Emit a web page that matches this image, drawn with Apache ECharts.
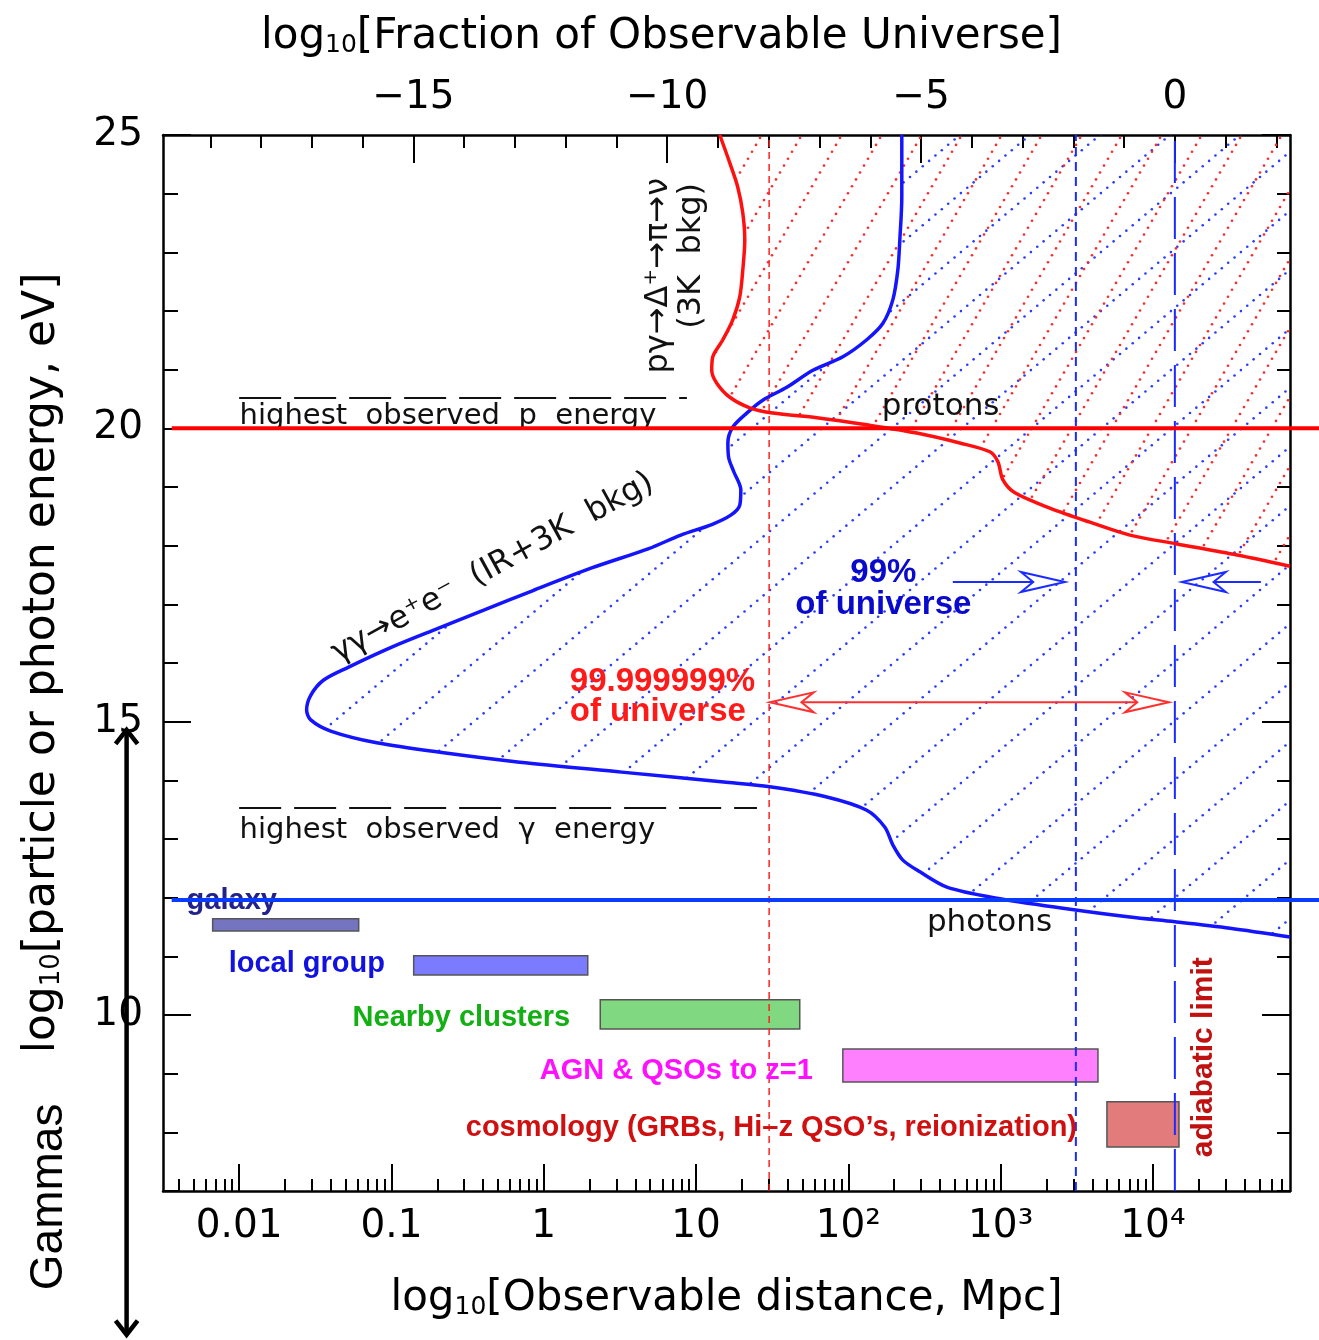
<!DOCTYPE html>
<html>
<head>
<meta charset="utf-8">
<title>Observable universe vs particle energy</title>
<script src="https://cdn.jsdelivr.net/npm/echarts@6/dist/echarts.min.js"></script>
<style>
  html, body { margin: 0; padding: 0; background: #fff; }
  #chart { width: 1319px; height: 1340px; }
</style>
</head>
<body>
<div id="chart"></div>
<script>
// x = log10(distance / Mpc), y = log10(energy / eV)

// photon horizon (gamma gamma -> e+e-) top to bottom
const photonHorizon = [
  [2.351, 25.0], [2.351, 23.94], [2.338, 23.21], [2.325, 22.70], [2.292, 22.19],
  [2.227, 21.79], [2.121, 21.51], [1.964, 21.22], [1.767, 20.99], [1.596, 20.70],
  [1.438, 20.48], [1.333, 20.26], [1.241, 20.02], [1.209, 19.75], [1.215, 19.49],
  [1.248, 19.26], [1.294, 18.95], [1.287, 18.69], [1.228, 18.52], [1.103, 18.36],
  [0.900, 18.18], [0.690, 17.95], [0.315, 17.62], [-0.066, 17.24], [-0.394, 16.90],
  [-0.723, 16.56], [-0.998, 16.27], [-1.281, 15.93], [-1.445, 15.71], [-1.530, 15.45],
  [-1.557, 15.20], [-1.530, 15.03], [-1.399, 14.84], [-1.097, 14.64], [-0.657, 14.47],
  [-0.158, 14.31], [0.512, 14.14], [1.182, 13.97], [1.484, 13.89], [1.852, 13.72],
  [2.121, 13.49], [2.240, 13.20], [2.292, 12.90], [2.358, 12.64], [2.470, 12.44],
  [2.647, 12.18], [2.975, 11.99], [3.409, 11.82], [3.849, 11.67], [4.144, 11.59],
  [4.506, 11.48], [4.900, 11.33]
];

// proton horizon (p gamma -> Delta -> pi -> nu)
const protonHorizon = [
  [1.156, 25.0], [1.222, 24.52], [1.274, 24.11], [1.307, 23.67], [1.320, 23.21],
  [1.307, 22.70], [1.287, 22.24], [1.241, 21.85], [1.176, 21.51], [1.110, 21.22],
  [1.103, 20.99], [1.136, 20.77], [1.222, 20.53], [1.353, 20.35], [1.504, 20.26],
  [1.793, 20.18], [2.121, 20.06], [2.450, 19.92], [2.732, 19.75], [2.929, 19.60],
  [2.982, 19.43], [3.015, 19.12], [3.094, 18.90], [3.323, 18.64], [3.586, 18.40],
  [3.849, 18.18], [4.158, 18.03], [4.552, 17.84], [4.900, 17.65]
];

const protonLimit = 20.0;        // red line
const photonLimit = 11.96;       // blue line
const limitStart = -2.443;
const distanceMarks = [1.48, 3.494, 4.144];   // 30 Mpc, 99 %, adiabatic limit
const horizonLog = 4.144;                     // log10 distance where fraction = 1

// "highest observed" dashed lines: [x0, x1, y]
const observedMax = [[-2.0, 0.94, 20.52], [-2.0, 1.40, 13.53]];

// source classes: [x0, x1, y0, y1]
const sourceNames = ['galaxy', 'local group', 'Nearby clusters', 'AGN & QSOs to z=1',
  'cosmology (GRBs, Hi\u2013z QSO\u2019s, reionization)'];
const sourceRanges = [
  [-2.174, -1.215, 11.43, 11.64],
  [-0.854, 0.289, 10.68, 11.01],
  [0.371, 1.681, 9.76, 10.26],
  [1.964, 3.639, 8.86, 9.42],
  [3.698, 4.171, 7.75, 8.52]
];
const sourceLabelAt = [[-2.345, 11.94], [-2.069, 10.87], [-1.255, 9.95], [-0.026, 9.05], [-0.512, 8.07]];

// arrows: [x0, y0, x1, y1]
const blueArrows = [[2.686, 17.38, 3.422, 17.38], [4.709, 17.38, 4.190, 17.38]];
const redArrow = [[1.484, 15.33, 4.105, 15.33]];
const gammaArrow = [[-2.739, 14.86, -2.739, 4.55]];

// other text
const noteText = [
  'highest  observed  p  energy',
  'highest  observed  \u03b3  energy',
  'protons',
  'photons',
  'p\u03b3\u2192\u0394\u207a\u2192\u03c0\u2192\u03bd',
  '(3K  bkg)',
  '\u03b3\u03b3\u2192e\u207ae\u207b  (IR+3K  bkg)',
  '99%\nof universe',
  '99.999999%\nof universe',
  'adiabatic limit',
  'Gammas'
];
const noteAt = [
  [-1.997, 20.21], [-1.997, 13.15], [2.22, 20.36], [2.516, 11.57],
  [0.755, 22.60], [0.972, 22.94], [-0.335, 17.62],
  [2.23, 17.26], [0.171, 15.42], [4.335, 9.28], [-3.245, 6.90]
];

// axis ticks
const decadeTicks = [-2, -1, 0, 1, 2, 3, 4];
const decadeLabels = ['0.01', '0.1', '1', '10', '10\u00b2', '10\u00b3', '10\u2074'];
const mantissas = [2, 3, 4, 5, 6, 7, 8, 9];
const fractionTicks = [-15, -10, -5, 0];
const fractionMinor = [-19, -18, -17, -16, -15, -14, -13, -12, -11, -10, -9, -8, -7, -6, -5, -4, -3, -2, -1, 0, 1, 2];
const energyTicks = [10, 15, 20, 25];
const energyMinor = [7, 8, 9, 10, 11, 12, 13, 14, 15, 16, 17, 18, 19, 20, 21, 22, 23, 24, 25];

const X_MIN = -2.5, X_MAX = 4.9, Y_MIN = 7, Y_MAX = 25;
const X2_MAX = X_MIN + (X_MAX - X_MIN) * (1319 - 163) / (1319 - 163 - 29);

const minorDistance = [];
[-3, -2, -1, 0, 1, 2, 3, 4].forEach(n => mantissas.forEach(m => {
  const v = n + Math.log10(m);
  if (v > X_MIN && v < X_MAX) minorDistance.push(v);
}));

const FONT = "'DejaVu Sans', sans-serif";
const SANS = "'Liberation Sans', Arial, sans-serif";

// dotted diagonal hatch as a repeating canvas pattern
function hatch(color, w, angle, step, r) {
  const h = Math.round(w * Math.tan(angle * Math.PI / 180));
  const c = document.createElement('canvas');
  c.width = w; c.height = h;
  const g = c.getContext('2d');
  g.fillStyle = color;
  const n = Math.max(1, Math.round(Math.hypot(w, h) / step));
  for (let i = 0; i < n; i++) {
    const x = w * i / n, y = h - h * i / n;
    for (const dx of [-w, 0, w]) for (const dy of [-h, 0, h]) {
      g.beginPath(); g.arc(x + dx, y + dy, r, 0, Math.PI * 2); g.fill();
    }
  }
  return c;
}
const blueHatch = hatch('#2b3cff', 70, 40, 8.5, 1.3);
const redHatch = hatch('#ff2b2b', 40, 60, 8, 1.3);

function hatchSeries(curve, pattern) {
  return {
    type: 'custom', z: 1, silent: true, clip: true,
    data: curve,
    renderItem: (params, api) => {
      if (params.dataIndex !== 0) return null;
      const pts = curve.concat([[X_MAX, Y_MAX]]).map(p => api.coord(p));
      return { type: 'polygon', shape: { points: pts }, style: { fill: { image: pattern, repeat: 'repeat' } } };
    }
  };
}

function arrowSeries(segs, color, width, L, W, both, open, z) {
  return {
    type: 'custom', z: z, silent: true, clip: false,
    data: segs,
    renderItem: (params, api) => {
      const a = api.coord([api.value(0), api.value(1)]);
      const b = api.coord([api.value(2), api.value(3)]);
      const dx = b[0] - a[0], dy = b[1] - a[1], len = Math.hypot(dx, dy);
      const ux = dx / len, uy = dy / len, nx = -uy, ny = ux;
      const head = (tip, s) => {
        const bx = tip[0] - s * ux * L, by = tip[1] - s * uy * L;
        const p1 = [bx + nx * W, by + ny * W], p2 = [bx - nx * W, by - ny * W];
        if (open) return { type: 'polyline', shape: { points: [p1, tip, p2] }, style: { stroke: color, lineWidth: width, fill: null } };
        const nt = [tip[0] - s * ux * L * 0.72, tip[1] - s * uy * L * 0.72];
        return { type: 'polygon', shape: { points: [tip, p1, nt, p2] }, style: { stroke: color, lineWidth: width, fill: null } };
      };
      const cut = open ? 0 : L * 0.72;
      const s0 = both ? [a[0] + ux * cut, a[1] + uy * cut] : a;
      const s1 = [b[0] - ux * cut, b[1] - uy * cut];
      const children = [{ type: 'line', shape: { x1: s0[0], y1: s0[1], x2: s1[0], y2: s1[1] }, style: { stroke: color, lineWidth: width } }, head(b, 1)];
      if (both) children.push(head(a, -1));
      return { type: 'group', children: children };
    }
  };
}

const noteStyle = [
  { font: '29px ' + FONT, fill: '#111', align: 'left', rot: 0 },
  { font: '29px ' + FONT, fill: '#111', align: 'left', rot: 0 },
  { font: '31px ' + FONT, fill: '#111', align: 'left', rot: 0 },
  { font: '31px ' + FONT, fill: '#111', align: 'left', rot: 0 },
  { font: '32px ' + FONT, fill: '#111', align: 'center', rot: 90 },
  { font: '32px ' + FONT, fill: '#111', align: 'center', rot: 90 },
  { font: '32px ' + FONT, fill: '#111', align: 'center', rot: 28.8 },
  { font: 'bold 33px ' + SANS, fill: '#0a0acc', align: 'center', rot: 0, lh: 32 },
  { font: 'bold 33px ' + SANS, fill: '#ff1a1a', align: 'left', rot: 0, lh: 30 },
  { font: 'bold 30px ' + SANS, fill: '#c01010', align: 'center', rot: 90 },
  { font: '46px ' + SANS, fill: '#000', align: 'center', rot: 90 }
];
const sourceColors = ['#22228c', '#1212e0', '#13b013', '#ff10ff', '#d01010'];
const barColors = ['#7474c0', '#7b7bff', '#80d880', '#ff80ff', '#e27c7c'];

function textSeries(texts, at, styleOf, z) {
  return {
    type: 'custom', z: z, silent: true, clip: false,
    data: at,
    renderItem: (params, api) => {
      const i = params.dataIndex, st = styleOf(i);
      const p = api.coord([api.value(0), api.value(1)]);
      return {
        type: 'text', x: p[0], y: p[1], rotation: (st.rot || 0) * Math.PI / 180,
        style: { text: texts[i], font: st.font, fill: st.fill, align: st.align, verticalAlign: 'middle', lineHeight: st.lh }
      };
    }
  };
}

const frame = { show: true, onZero: false, lineStyle: { color: '#000', width: 2.5 } };
const tickLine = { color: '#000', width: 2 };
const tickFont = { fontFamily: FONT, fontSize: 39, color: '#000' };
function titleRich(size) {
  return {
    n: { fontFamily: FONT, fontSize: size, color: '#000', verticalAlign: 'bottom', lineHeight: size + 16 },
    s: { fontFamily: FONT, fontSize: Math.round(size * 0.6), color: '#000', verticalAlign: 'bottom', lineHeight: Math.round(size * 0.6) }
  };
}

const F = v => 3 * (v - horizonLog);

const chart = echarts.init(document.getElementById('chart'), null, { renderer: 'canvas' });
chart.setOption({
  animation: false,
  backgroundColor: '#fff',
  grid: [
    { left: 163, right: 29, top: 135, bottom: 149, containLabel: false, outerBoundsMode: 'none' },
    { left: 163, right: 0, top: 135, bottom: 149, containLabel: false, outerBoundsMode: 'none' }
  ],
  xAxis: [
    {
      gridIndex: 0, type: 'value', position: 'bottom', min: X_MIN, max: X_MAX,
      axisLine: frame, splitLine: { show: false },
      axisTick: { inside: true, length: 27, customValues: decadeTicks, lineStyle: tickLine },
      axisLabel: Object.assign({ customValues: decadeTicks, margin: 16,
        formatter: v => decadeLabels[decadeTicks.indexOf(Math.round(v))] }, tickFont),
      name: '{n|log}{s|10}{n|[Observable distance, Mpc]}', nameLocation: 'middle', nameGap: 71,
      nameTextStyle: { rich: titleRich(42) }
    },
    {
      gridIndex: 0, type: 'value', position: 'bottom', min: X_MIN, max: X_MAX,
      axisLine: { show: false, onZero: false }, splitLine: { show: false }, axisLabel: { show: false },
      axisTick: { inside: true, length: 12, customValues: minorDistance, lineStyle: tickLine }
    },
    {
      gridIndex: 0, type: 'value', position: 'top', min: F(X_MIN), max: F(X_MAX),
      axisLine: frame, splitLine: { show: false },
      axisTick: { inside: true, length: 28, customValues: fractionTicks, lineStyle: tickLine },
      axisLabel: Object.assign({ customValues: fractionTicks, margin: 18,
        formatter: v => (v < 0 ? '\u2212' + Math.abs(v) : String(v)) }, tickFont),
      name: '{n|log}{s|10}{n|[Fraction of Observable Universe]}', nameLocation: 'middle', nameGap: 77,
      nameTextStyle: { rich: titleRich(42), padding: [0, 130, 0, 0] }
    },
    {
      gridIndex: 0, type: 'value', position: 'top', min: F(X_MIN), max: F(X_MAX),
      axisLine: { show: false, onZero: false }, splitLine: { show: false }, axisLabel: { show: false },
      axisTick: { inside: true, length: 13, customValues: fractionMinor, lineStyle: tickLine }
    },
    { gridIndex: 1, type: 'value', min: X_MIN, max: X2_MAX, show: false }
  ],
  yAxis: [
    {
      gridIndex: 0, type: 'value', position: 'left', min: Y_MIN, max: Y_MAX,
      axisLine: frame, splitLine: { show: false },
      axisTick: { inside: true, length: 28, customValues: energyTicks, lineStyle: tickLine },
      axisLabel: Object.assign({ customValues: energyTicks, margin: 20 }, tickFont),
      name: '{n|log}{s|10}{n|[particle or photon energy, eV]}', nameLocation: 'middle', nameGap: 98,
      nameRotate: 90, nameTextStyle: { rich: titleRich(44) }
    },
    {
      gridIndex: 0, type: 'value', position: 'left', min: Y_MIN, max: Y_MAX,
      axisLine: { show: false, onZero: false }, splitLine: { show: false }, axisLabel: { show: false },
      axisTick: { inside: true, length: 15, customValues: energyMinor, lineStyle: tickLine }
    },
    {
      gridIndex: 0, type: 'value', position: 'right', min: Y_MIN, max: Y_MAX,
      axisLine: frame, splitLine: { show: false }, axisLabel: { show: false },
      axisTick: { inside: true, length: 28, customValues: energyTicks, lineStyle: tickLine }
    },
    {
      gridIndex: 0, type: 'value', position: 'right', min: Y_MIN, max: Y_MAX,
      axisLine: { show: false, onZero: false }, splitLine: { show: false }, axisLabel: { show: false },
      axisTick: { inside: true, length: 13, customValues: energyMinor, lineStyle: tickLine }
    },
    { gridIndex: 1, type: 'value', min: Y_MIN, max: Y_MAX, show: false }
  ],
  series: [
    hatchSeries(photonHorizon, blueHatch),
    hatchSeries(protonHorizon, redHatch),
    {
      type: 'custom', z: 2, silent: true,
      data: sourceRanges,
      encode: { x: [0, 1], y: [2, 3] },
      renderItem: (params, api) => {
        const p0 = api.coord([api.value(0), api.value(3)]);
        const p1 = api.coord([api.value(1), api.value(2)]);
        return { type: 'rect', shape: { x: p0[0], y: p0[1], width: p1[0] - p0[0], height: p1[1] - p0[1] },
          style: { fill: barColors[params.dataIndex], stroke: '#555', lineWidth: 1.5 } };
      }
    },
    {
      type: 'line', z: 3, symbol: 'none', silent: true,
      data: [[distanceMarks[0], Y_MIN], [distanceMarks[0], Y_MAX]],
      lineStyle: { color: '#ff2020', width: 1.5, type: [7, 5] }
    },
    {
      type: 'line', z: 3, symbol: 'none', silent: true,
      data: [[distanceMarks[1], Y_MIN], [distanceMarks[1], Y_MAX]],
      lineStyle: { color: '#1a2cff', width: 2, type: [9, 6] }
    },
    {
      type: 'line', z: 3, symbol: 'none', silent: true,
      data: [[distanceMarks[2], Y_MIN], [distanceMarks[2], Y_MAX]],
      lineStyle: { color: '#1a2cff', width: 2, type: [42, 14] }
    },
    {
      type: 'lines', z: 3, silent: true, coordinateSystem: 'cartesian2d',
      data: observedMax.map(d => ({ coords: [[d[0], d[2]], [d[1], d[2]]] })),
      lineStyle: { color: '#111', width: 2.2, type: [42, 13], opacity: 1 }
    },
    {
      type: 'line', z: 4, symbol: 'none', silent: true, smooth: 0.3,
      data: photonHorizon, lineStyle: { color: '#1414ff', width: 3.5 }
    },
    {
      type: 'line', z: 4, symbol: 'none', silent: true, smooth: 0.3,
      data: protonHorizon, lineStyle: { color: '#ff1010', width: 3.5 }
    },
    textSeries(noteText, noteAt, i => noteStyle[i], 5),
    textSeries(sourceNames, sourceLabelAt,
      i => ({ font: 'bold 29px ' + SANS, fill: sourceColors[i], align: 'left', rot: 0 }), 5),
    arrowSeries(blueArrows, '#1a2cff', 2, 44, 10, false, false, 6),
    arrowSeries(redArrow, '#ff3030', 2, 44, 10, true, false, 6),
    arrowSeries(gammaArrow, '#000', 4.5, 14, 11, true, true, 6),
    {
      type: 'line', z: 7, symbol: 'none', silent: true, xAxisIndex: 4, yAxisIndex: 4,
      data: [[limitStart, protonLimit], [X2_MAX, protonLimit]],
      lineStyle: { color: '#ff0000', width: 4 }
    },
    {
      type: 'line', z: 7, symbol: 'none', silent: true, xAxisIndex: 4, yAxisIndex: 4,
      data: [[limitStart, photonLimit], [X2_MAX, photonLimit]],
      lineStyle: { color: '#0a3cff', width: 4 }
    }
  ]
});
</script>
</body>
</html>
